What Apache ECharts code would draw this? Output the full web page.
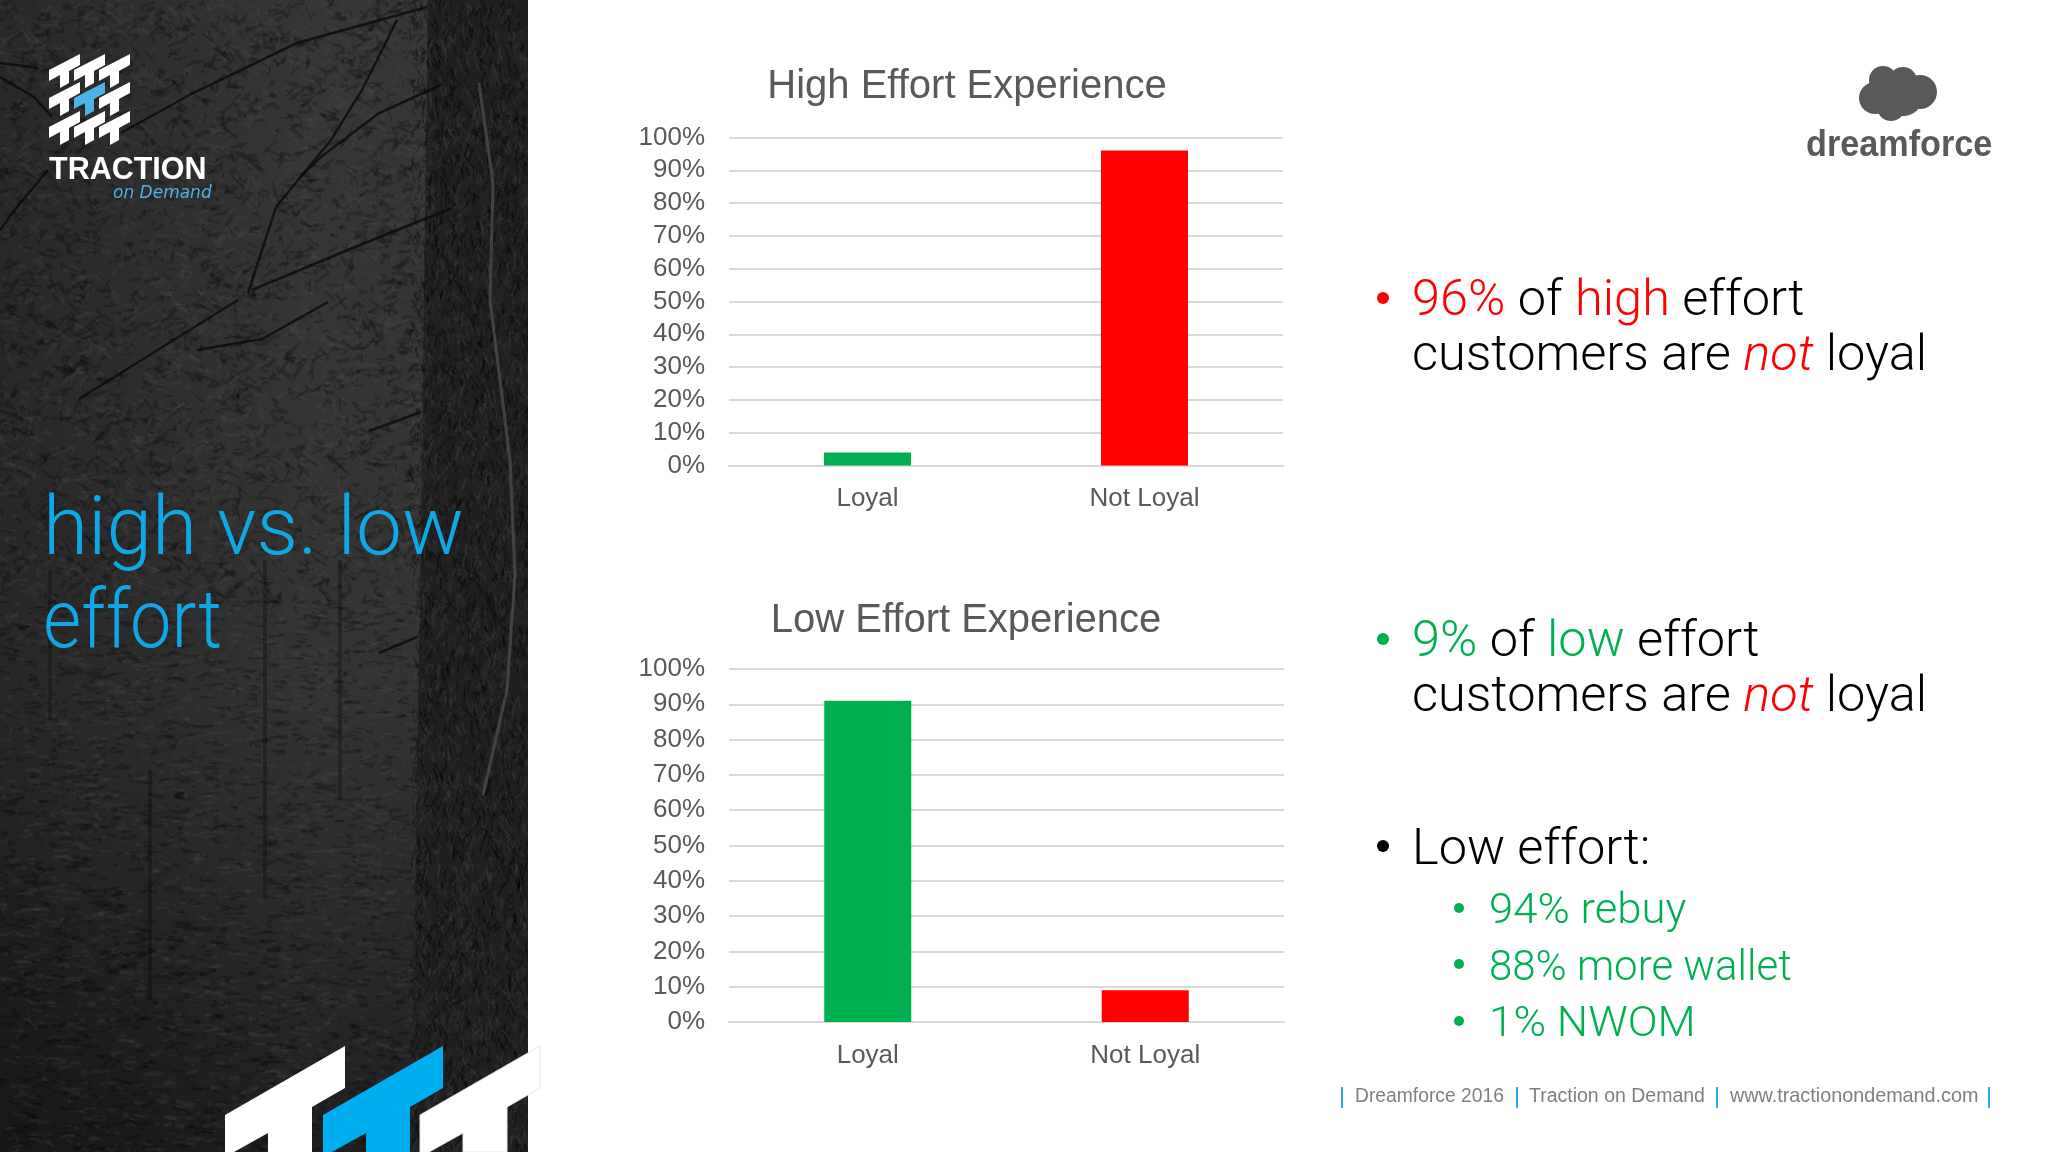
<!DOCTYPE html>
<html>
<head>
<meta charset="utf-8">
<style>html,body{margin:0;padding:0;background:#fff}#chart{width:2048px;height:1152px}</style>
<script src="https://cdn.jsdelivr.net/npm/echarts@6/dist/echarts.min.js"></script>
</head>
<body>
<div id="chart"></div>
<script>
const categories = ['Loyal', 'Not Loyal'];
const highEffortValues = [4, 96];
const lowEffortValues = [91, 9];
const highEffortTitle = 'High Effort Experience';
const lowEffortTitle = 'Low Effort Experience';
const GREEN = '#00b050';
const RED = '#ff0000';
const BLUE = '#0fa8e6';
const GREY = '#58595b';
const LIGHT_FONT = 'Roboto';

// side panel decoration, x y pairs in page pixels
const darkBranches = [
  [427, 7, 297, 43, 193, 93, 121, 133],
  [397, 20, 362, 90, 331, 140, 276, 207, 248, 293],
  [441, 85, 379, 113, 321, 157, 300, 177],
  [452, 208, 355, 247, 252, 290],
  [0, 77, 34, 97, 52, 117],
  [48, 170, 17, 207, 0, 230],
  [0, 63, 38, 68],
  [79, 399, 172, 341, 238, 300],
  [197, 350, 262, 339, 328, 302],
  [369, 431, 421, 412],
  [379, 653, 417, 637]
];
const lightBranches = [
  [479, 83, 493, 183, 490, 300, 510, 460, 515, 575, 507, 690, 483, 795]
];
const darkTrees = [[265, 560, 900], [340, 560, 800], [50, 570, 720], [150, 770, 1000]];

function polyline(g, b) {
  g.beginPath();
  g.moveTo(b[0], b[1]);
  for (let i = 2; i < b.length; i += 2) g.lineTo(b[i], b[i + 1]);
  g.stroke();
}

function panelTexture() {
  const c = document.createElement('canvas');
  c.width = 528; c.height = 1152;
  const g = c.getContext('2d');
  const h = g.createLinearGradient(0, 0, 528, 0);
  h.addColorStop(0, '#2a2a2a');
  h.addColorStop(0.3, '#313131');
  h.addColorStop(0.6, '#393939');
  h.addColorStop(0.8, '#383838');
  g.fillStyle = h;
  g.fillRect(0, 0, 528, 1152);
  const v = g.createLinearGradient(0, 0, 0, 1152);
  v.addColorStop(0, 'rgba(0,0,0,0.05)');
  v.addColorStop(0.6, 'rgba(0,0,0,0.1)');
  v.addColorStop(1, 'rgba(0,0,0,0.45)');
  g.fillStyle = v;
  g.fillRect(0, 0, 528, 1152);
  // foliage strokes, seeded so every run looks the same
  let seed = 12345;
  const next = () => (seed = (seed * 16807) % 2147483647) / 2147483647;
  for (let i = 0; i < 9000; i++) {
    const x = next() * 430, y = next() * 1152, s = 4 + next() * 16;
    const flat = y > 600 ? 0.25 : 0.9;
    g.strokeStyle = next() > 0.55 ? 'rgba(85,85,85,0.16)' : 'rgba(0,0,0,0.2)';
    g.lineWidth = 1 + next() * 3;
    polyline(g, [x, y, x + (next() - 0.5) * s, y + (next() - 0.5) * s * flat, x + (next() - 0.5) * s * 1.5, y + (next() - 0.5) * s * flat]);
  }
  // big trunk on the right
  g.fillStyle = '#202020';
  g.beginPath();
  g.moveTo(428, 0); g.lineTo(528, 0); g.lineTo(528, 1152); g.lineTo(410, 1152); g.lineTo(420, 600);
  g.fill();
  for (let i = 0; i < 5000; i++) {
    const x = 412 + next() * 116, y = next() * 1152, s = 3 + next() * 7;
    g.strokeStyle = next() > 0.5 ? 'rgba(70,70,70,0.25)' : 'rgba(0,0,0,0.3)';
    g.lineWidth = 1 + next();
    polyline(g, [x, y, x + (next() - 0.5) * s, y + (next() - 0.5) * s, x + (next() - 0.5) * s, y + s]);
  }
  g.strokeStyle = 'rgba(12,12,12,0.35)';
  g.lineWidth = 4;
  darkTrees.forEach(t => polyline(g, [t[0], t[1], t[0], t[2]]));
  g.strokeStyle = 'rgba(12,12,12,0.85)';
  g.lineWidth = 2.5;
  darkBranches.forEach(b => polyline(g, b));
  g.strokeStyle = 'rgba(80,80,80,0.7)';
  g.lineWidth = 3;
  lightBranches.forEach(b => polyline(g, b));
  return c;
}

function tPolygon(x, y, fill) {
  return {
    type: 'polygon', silent: true,
    shape: { points: [[x, y], [x + 31, y - 16], [x + 31, y - 5], [x + 20, y + 1], [x + 20, y + 13], [x + 11, y + 18], [x + 11, y + 5], [x, y + 11]] },
    style: { fill }
  };
}

function bigT(x, fill, stroke) {
  return {
    type: 'polygon', silent: true,
    shape: { points: [[x, 1115], [x + 120, 1046], [x + 120, 1088], [x + 87, 1107], [x + 87, 1152], [x + 43, 1152], [x + 43, 1133], [x + 9, 1152], [x, 1152]] },
    style: { fill, stroke }
  };
}

function dot(x, y, r, fill) {
  return { type: 'circle', silent: true, shape: { cx: x, cy: y, r }, style: { fill } };
}

function text(x, y, str, size, fill, extra, scaleX) {
  return {
    type: 'text', silent: true, x, y, scaleX: scaleX || 1,
    style: Object.assign({ text: str, fontSize: size, fill, fontFamily: LIGHT_FONT, fontWeight: 300, verticalAlign: 'middle' }, extra || {})
  };
}

const richStyles = {
  k: { fontSize: 50.5, fontFamily: LIGHT_FONT, fontWeight: 300, fill: '#000' },
  r: { fontSize: 50.5, fontFamily: LIGHT_FONT, fontWeight: 300, fill: RED },
  g: { fontSize: 50.5, fontFamily: LIGHT_FONT, fontWeight: 300, fill: GREEN },
  i: { fontSize: 50.5, fontFamily: LIGHT_FONT, fontWeight: 300, fontStyle: 'italic', fill: RED }
};

function richLine(x, y, str) {
  return { type: 'text', silent: true, x, y, style: { text: str, rich: richStyles, verticalAlign: 'middle' } };
}

function makeX(gridIndex, margin) {
  return {
    type: 'category', gridIndex, data: categories,
    axisTick: { show: false },
    axisLine: { lineStyle: { color: '#d9d9d9', width: 2 } },
    axisLabel: { color: '#595959', fontSize: 26, fontFamily: 'Liberation Sans', margin }
  };
}

function makeY(gridIndex) {
  return {
    type: 'value', gridIndex, min: 0, max: 100, interval: 10,
    axisLine: { show: false }, axisTick: { show: false },
    axisLabel: { color: '#595959', fontSize: 26, fontFamily: 'Liberation Sans', margin: 24, formatter: '{value}%' },
    splitLine: { lineStyle: { color: '#d9d9d9', width: 2 } }
  };
}

function makeBars(values, idx) {
  return {
    type: 'bar', xAxisIndex: idx, yAxisIndex: idx, barWidth: 87, silent: true,
    data: values.map((v, i) => ({ value: v, itemStyle: { color: i === 0 ? GREEN : RED } }))
  };
}

const footerStyle = { fontFamily: 'Liberation Sans', fontWeight: 'normal' };

const chart = echarts.init(document.getElementById('chart'));
chart.setOption({
  animation: false,
  backgroundColor: '#fff',
  title: [
    { text: highEffortTitle, left: 962, top: 62, textAlign: 'center', textStyle: { color: '#595959', fontSize: 40, fontWeight: 'normal', fontFamily: 'Liberation Sans' } },
    { text: lowEffortTitle, left: 961, top: 596, textAlign: 'center', textStyle: { color: '#595959', fontSize: 40, fontWeight: 'normal', fontFamily: 'Liberation Sans' } }
  ],
  grid: [
    { left: 729, top: 137.5, width: 554, height: 328 },
    { left: 729, top: 669, width: 555, height: 353 }
  ],
  xAxis: [makeX(0, 20), makeX(1, 21)],
  yAxis: [makeY(0), makeY(1)],
  series: [makeBars(highEffortValues, 0), makeBars(lowEffortValues, 1)],
  graphic: [
    { type: 'image', silent: true, z: -1, x: 0, y: 0, style: { image: panelTexture(), width: 528, height: 1152 } },
    // small logo
    ...[70, 98, 127].flatMap((y, row) => [49, 74, 99].map((x, col) => tPolygon(x, y, row === 1 && col === 1 ? '#4db3e6' : '#fff'))),
    text(49, 171, 'TRACTION', 30.5, '#fff', { fontFamily: 'Liberation Sans', fontWeight: 'bold' }),
    text(113, 194, 'on Demand', 17, '#4db3e6', { fontFamily: 'DejaVu Sans', fontWeight: 'normal', fontStyle: 'italic' }),
    // big logo at the bottom of the panel
    bigT(225, '#fff'),
    bigT(323, '#00aeef'),
    bigT(420, '#fff', '#e6e6e6'),
    // panel heading
    text(43, 533, 'high vs. low', 82, BLUE),
    text(43, 626, 'effort', 82, BLUE, null, 0.9),
    // dreamforce logo
    dot(1883, 80, 14, GREY), dot(1903, 81, 14, GREY), dot(1920, 92, 17, GREY),
    dot(1875, 98, 16, GREY), dot(1891, 107, 14, GREY), dot(1903, 96, 20, GREY),
    text(1806, 146, 'dreamforce', 36, GREY, { fontFamily: 'Liberation Sans', fontWeight: 'bold' }, 0.95),
    // bullets
    dot(1383, 298, 6, RED),
    richLine(1412, 302, '{r|96%}{k| of }{r|high}{k| effort}'),
    richLine(1412, 357, '{k|customers are }{i|not}{k| loyal}'),
    dot(1383, 639, 6, GREEN),
    richLine(1412, 643, '{g|9%}{k| of }{g|low}{k| effort}'),
    richLine(1412, 698, '{k|customers are }{i|not}{k| loyal}'),
    dot(1383, 846, 6, '#000'),
    text(1412, 851, 'Low effort:', 50.5, '#000'),
    dot(1459, 908, 5, GREEN), text(1489, 912, '94% rebuy', 42, GREEN, null, 1.04),
    dot(1459, 964, 5, GREEN), text(1489, 969, '88% more wallet', 42, GREEN),
    dot(1459, 1021, 5, GREEN), text(1489, 1025, '1% NWOM', 42, GREEN, null, 1.05),
    // footer
    text(1355, 1097, 'Dreamforce 2016', 19.3, '#7f7f7f', footerStyle),
    text(1529, 1097, 'Traction on Demand', 19.5, '#7f7f7f', footerStyle),
    text(1730, 1097, 'www.tractionondemand.com', 19.8, '#7f7f7f', footerStyle),
    ...[1341, 1516, 1716, 1988].map(x => ({ type: 'rect', silent: true, shape: { x, y: 1087, width: 2, height: 21 }, style: { fill: '#29abe2' } }))
  ]
});
</script>
</body>
</html>
